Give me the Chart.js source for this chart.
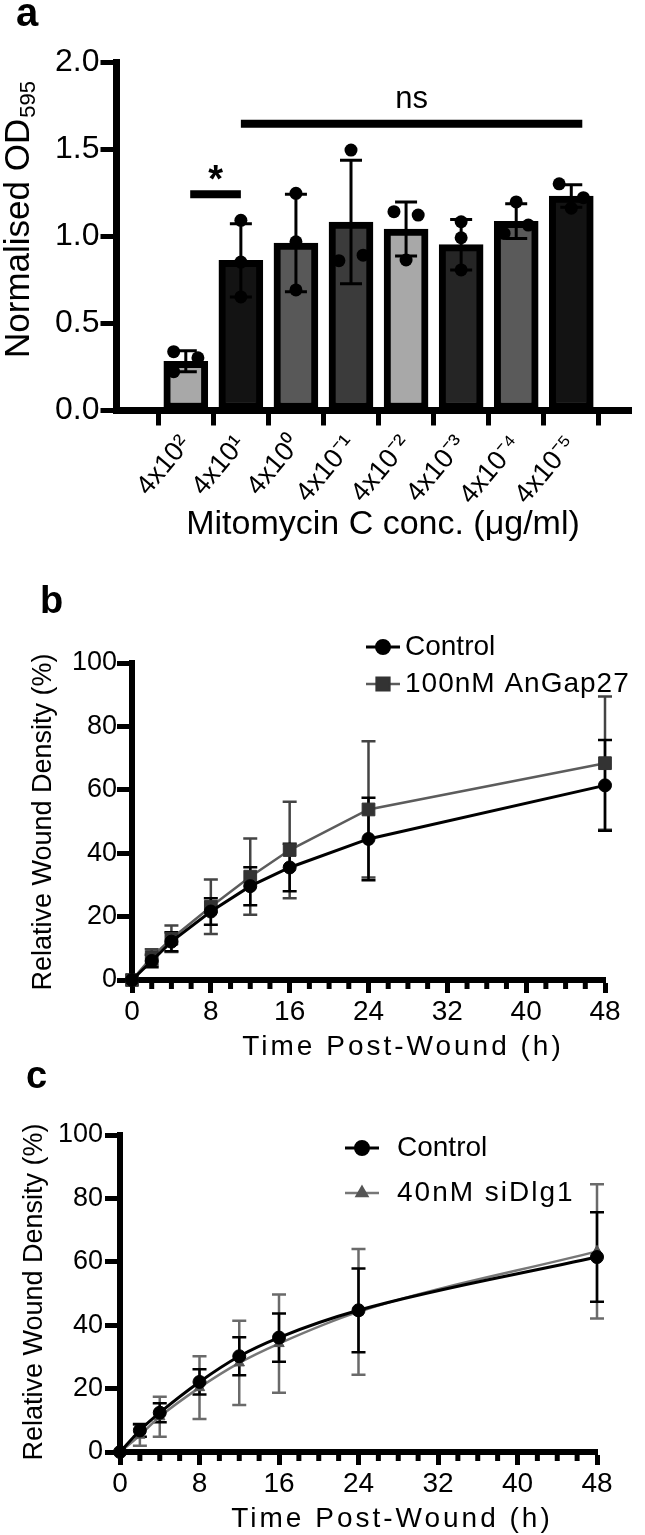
<!DOCTYPE html>
<html><head><meta charset="utf-8">
<script src="https://cdn.jsdelivr.net/npm/chart.js@4.4.1/dist/chart.umd.min.js"></script>
<style>
html,body{margin:0;padding:0;background:#fff;}
#wrap{position:relative;width:645px;height:1535px;overflow:hidden;background:#fff;}
canvas{position:absolute;left:0;}
</style></head><body>
<div id="wrap">
<canvas id="ca" width="645" height="560" style="top:0px;width:645px;height:560px"></canvas>
<canvas id="cb" width="645" height="520" style="top:560px;width:645px;height:520px"></canvas>
<canvas id="cc" width="645" height="475" style="top:1060px;width:645px;height:475px"></canvas>
</div>
<script>
// ---------- Panel a data ----------
const concLabels = ['4x10²','4x10¹','4x10⁰','4x10⁻¹','4x10⁻²','4x10⁻³','4x10⁻⁴','4x10⁻⁵'];
const odMean = [0.28, 0.86, 0.96, 1.08, 1.04, 0.95, 1.085, 1.23];
const odSD = [0.06, 0.21, 0.28, 0.355, 0.155, 0.145, 0.10, 0.065];
const odReplicates = [[0.335,0.30,0.22],[1.09,0.85,0.65],[1.245,0.967,0.69],[1.494,0.858,0.89],[1.14,1.12,0.862],[1.082,0.99,0.805],[1.196,1.015,1.063],[1.30,1.22,1.16]];
const replicateSide = [[-1,1,-1],[0,0,0],[0,0,0],[0,-1,1],[-1,1,0],[0,0,0],[0,-1,1],[-1,1,0]];
const barShades = ['#a8a8a8','#131313','#585858','#3b3b3b','#a8a8a8','#252525','#5a5a5a','#131313'];
const odTicks = [0, 0.5, 1.0, 1.5, 2.0];
const sigLabels = ['*', 'ns'];
const sigFrom = [0.08, 1];
const sigTo = [1, 7.2];
const sigLevel = [1.24, 1.645];

// ---------- Panel b / c data ----------
const timeH = [0, 2, 4, 8, 12, 16, 24, 48];
const bControl   = [0, 6.0, 12.1, 21.6, 29.6, 35.5, 44.5, 61.4];
const bControlSD = [0, 2.0, 3.0, 4.2, 6.0, 7.5, 13.0, 14.3];
const bAnGap     = [0, 7.2, 13.0, 23.1, 32.6, 41.0, 53.8, 68.4];
const bAnGapSD   = [0, 2.5, 4.2, 8.6, 12.0, 15.2, 21.5, 21.0];
const cControl   = [0, 6.8, 12.4, 22.1, 30.2, 36.1, 44.7, 61.5];
const cControlSD = [0, 2.0, 3.0, 4.0, 6.0, 7.6, 13.2, 14.1];
const cSiDlg     = [0, 5.3, 11.1, 20.3, 28.1, 34.2, 44.2, 63.3];
const cSiDlgSD   = [0, 3.3, 6.3, 9.9, 13.3, 15.5, 19.8, 21.2];
const timeTicks = [0, 8, 16, 24, 32, 40, 48];
const densTicks = [0, 20, 40, 60, 80, 100];

// ---------- helpers ----------
const FF = "'Liberation Sans', Arial, Helvetica, sans-serif";
Chart.defaults.font.family = FF;
Chart.defaults.color = '#000';

function txt(ctx, s, x, y, o) {
  ctx.save();
  ctx.font = o.font;
  ctx.fillStyle = o.color || '#000';
  ctx.textAlign = o.align || 'center';
  ctx.textBaseline = o.baseline || 'middle';
  if (o.spacing && 'letterSpacing' in ctx) ctx.letterSpacing = o.spacing + 'px';
  ctx.translate(x, y);
  if (o.rot) ctx.rotate(o.rot);
  ctx.fillText(s, 0, 0);
  ctx.restore();
}
function errBars(chart, xs, means, sds, color, lw, cap) {
  const ctx = chart.ctx, X = chart.scales.x, Y = chart.scales.y;
  ctx.save(); ctx.strokeStyle = color; ctx.lineWidth = lw;
  means.forEach((m, i) => {
    if (!sds[i]) return;
    const x = X.getPixelForValue(xs[i]);
    const y1 = Y.getPixelForValue(m + sds[i]), y2 = Y.getPixelForValue(m - sds[i]);
    ctx.beginPath();
    ctx.moveTo(x, y1); ctx.lineTo(x, y2);
    ctx.moveTo(x - cap, y1); ctx.lineTo(x + cap, y1);
    ctx.moveTo(x - cap, y2); ctx.lineTo(x + cap, y2);
    ctx.stroke();
  });
  ctx.restore();
}
function minorTicks(chart, step, major) {
  const X = chart.scales.x, ctx = chart.ctx, yb = chart.chartArea.bottom;
  ctx.save(); ctx.fillStyle = '#000';
  for (let v = X.min; v <= X.max; v += step) {
    if (v % major === 0) continue;
    const x = X.getPixelForValue(v);
    ctx.fillRect(x - 2.5, yb + 2, 5, 7);
  }
  ctx.restore();
}
function drawLegend(chart, mx, ys, tx, spacings) {
  const ctx = chart.ctx;
  chart.data.datasets.forEach((ds, i) => {
    const y = ys[i];
    ctx.save();
    ctx.strokeStyle = ds.borderColor; ctx.lineWidth = ds.borderWidth;
    ctx.beginPath(); ctx.moveTo(mx - 17, y); ctx.lineTo(mx + 17, y); ctx.stroke();
    ctx.fillStyle = ds.pointBackgroundColor; ctx.strokeStyle = ds.pointBorderColor;
    Chart.helpers.drawPoint(ctx, {pointStyle: ds.pointStyle, radius: ds.pointRadius, borderWidth: 1, rotation: 0}, mx, y);
    ctx.restore();
    txt(ctx, ds.label, tx, y, {font: '28px ' + FF, align: 'left', spacing: spacings[i]});
  });
}

// ---------- Panel a ----------
const SPREAD = 0.22;
const panelA = {
  id: 'panelA',
  afterDatasetDraw(chart, args) {
    if (args.meta.type === 'bar') errBars(chart, odMean.map((_, i) => i), odMean, odSD, '#000', 3, 11);
  },
  afterDraw(chart) {
    const ctx = chart.ctx, X = chart.scales.x, Y = chart.scales.y;
    ctx.save(); ctx.strokeStyle = '#000'; ctx.lineWidth = 8;
    sigLabels.forEach((lab, i) => {
      const y = Y.getPixelForValue(sigLevel[i]);
      const x1 = X.getPixelForValue(sigFrom[i]), x2 = X.getPixelForValue(sigTo[i]);
      ctx.beginPath(); ctx.moveTo(x1, y); ctx.lineTo(x2, y); ctx.stroke();
      if (lab === '*') txt(ctx, lab, (x1 + x2) / 2, y - 2, {font: 'bold 38px ' + FF, baseline: 'alphabetic'});
      else txt(ctx, lab, (x1 + x2) / 2, y - 16, {font: '31px ' + FF, baseline: 'alphabetic'});
    });
    ctx.restore();
    txt(ctx, 'a', 16, 26, {font: 'bold 40px ' + FF, align: 'left', baseline: 'alphabetic'});
    ctx.save();
    ctx.translate(29, 220); ctx.rotate(-Math.PI / 2);
    ctx.font = '35px ' + FF; const w1 = ctx.measureText('Normalised OD').width;
    ctx.font = '22px ' + FF; const w2 = ctx.measureText('595').width;
    const start = -(w1 + w2) / 2;
    ctx.fillStyle = '#000'; ctx.textAlign = 'left'; ctx.textBaseline = 'alphabetic';
    ctx.font = '35px ' + FF; ctx.fillText('Normalised OD', start, 0);
    ctx.font = '22px ' + FF; ctx.fillText('595', start + w1 + 1, 6);
    ctx.restore();
    txt(ctx, X.options.title.text, 383, 525, {font: '34px ' + FF});
  }
};
new Chart(document.getElementById('ca'), {
  type: 'bar',
  data: {
    datasets: [
      { type: 'scatter', label: 'Replicates', order: 0,
        data: odReplicates.flatMap((r, i) => r.map((v, j) => ({x: i + replicateSide[i][j] * SPREAD, y: v}))),
        pointRadius: 6.5, pointBackgroundColor: '#000', pointBorderColor: '#000', pointBorderWidth: 0, clip: false },
      { type: 'bar', label: 'Normalised OD595', order: 1,
        data: odMean.map((v, i) => ({x: i, y: v})),
        backgroundColor: barShades, borderColor: '#000', borderWidth: 7, borderSkipped: false, barThickness: 44 }
    ]
  },
  options: {
    responsive: false, animation: false, devicePixelRatio: 1,
    layout: {padding: {top: 62, right: 14, left: 0, bottom: 0}},
    plugins: {legend: {display: false}, tooltip: {enabled: false}},
    scales: {
      x: { type: 'linear', min: -0.683, max: 7.5,
        afterBuildTicks: s => { s.ticks = concLabels.map((_, i) => ({value: i})); },
        afterFit: s => { s.height = 150; s.paddingLeft = 0; s.paddingRight = 0; },
        ticks: { callback: v => concLabels[v], minRotation: 50, maxRotation: 50, autoSkip: false, font: {size: 27}, padding: 4 },
        grid: { drawOnChartArea: false, drawTicks: true, tickLength: 15.5, tickWidth: 5, tickColor: '#000' },
        border: { width: 7, color: '#000' },
        title: { display: false, text: 'Mitomycin C conc. (μg/ml)' } },
      y: { min: 0, max: 2,
        afterBuildTicks: s => { s.ticks = odTicks.map(v => ({value: v})); },
        afterFit: s => { s.width = 116; s.paddingTop = 0; s.paddingBottom = 0; },
        ticks: { callback: v => v.toFixed(1), font: {size: 32}, padding: 1 },
        grid: { drawOnChartArea: false, tickLength: 15.5, tickWidth: 5, tickColor: '#000' },
        border: { width: 7, color: '#000' } }
    }
  },
  plugins: [panelA]
});

// ---------- line panels ----------
function linePanel(id, h, area, sets, extra) {
  return new Chart(document.getElementById(id), {
    type: 'line',
    data: { datasets: sets },
    options: {
      responsive: false, animation: false, devicePixelRatio: 1,
      layout: {padding: {top: area.top, right: 645 - area.right, left: 0, bottom: 0}},
      plugins: {legend: {display: false}, tooltip: {enabled: false}},
      scales: {
        x: { type: 'linear', min: 0, max: 48,
          afterBuildTicks: s => { s.ticks = timeTicks.map(v => ({value: v})); },
          afterFit: s => { s.height = h - area.bottom; s.paddingLeft = 0; s.paddingRight = 0; },
          ticks: { font: {size: 28}, padding: 2, maxRotation: 0 },
          grid: { drawOnChartArea: false, tickLength: 13, tickWidth: 5, tickColor: '#000' },
          border: { width: 6, color: '#000' },
          title: { display: false, text: 'Time Post-Wound (h)' } },
        y: { min: 0, max: 100,
          afterBuildTicks: s => { s.ticks = densTicks.map(v => ({value: v})); },
          afterFit: s => { s.width = area.left; s.paddingTop = 0; s.paddingBottom = 0; },
          ticks: { font: {size: 27}, padding: extra.yPad },
          grid: { drawOnChartArea: false, tickLength: 15, tickWidth: 5, tickColor: '#000' },
          border: { width: 6, color: '#000' },
          title: { display: false, text: 'Relative Wound Density (%)' } }
      }
    },
    plugins: [{
      id: 'extras_' + id,
      beforeDatasetsDraw(chart) { extra.err(chart); },
      afterDraw(chart) {
        const ctx = chart.ctx;
        minorTicks(chart, 2, 8);
        txt(ctx, extra.letter, extra.lx, extra.ly, {font: 'bold 38px ' + FF, align: 'left', baseline: 'alphabetic'});
        txt(ctx, chart.scales.x.options.title.text, extra.xtx, extra.xty, {font: '28px ' + FF, spacing: 3});
        txt(ctx, chart.scales.y.options.title.text, extra.ytx, extra.yty, {font: '27px ' + FF, rot: -Math.PI / 2});
        drawLegend(chart, extra.legX, extra.legY, extra.legTX, extra.legSp);
      }
    }]
  });
}

linePanel('cb', 520, {left: 132, right: 605, top: 103, bottom: 420}, [
  { label: 'Control', data: timeH.map((t, i) => ({x: t, y: bControl[i]})), order: 0,
    borderColor: '#000', backgroundColor: '#000', pointBackgroundColor: '#000', pointBorderColor: '#000',
    borderWidth: 3, pointStyle: 'circle', pointRadius: 6.5, pointBorderWidth: 1, tension: 0, clip: false },
  { label: '100nM AnGap27', data: timeH.map((t, i) => ({x: t, y: bAnGap[i]})), order: 1,
    borderColor: '#5c5c5c', backgroundColor: '#333', pointBackgroundColor: '#333', pointBorderColor: '#333',
    borderWidth: 2.5, pointStyle: 'rect', pointRadius: 9, pointBorderWidth: 1, tension: 0, clip: false }
], {
  err: ch => { errBars(ch, timeH, bAnGap, bAnGapSD, '#444', 2.5, 7); errBars(ch, timeH, bControl, bControlSD, '#000', 2.5, 7); },
  letter: 'b', lx: 40, ly: 53, xtx: 403, xty: 487, ytx: 44, yty: 262, yPad: 0,
  legX: 383, legY: [87, 124], legTX: 405, legSp: [0, 1]
});

linePanel('cc', 475, {left: 120, right: 597, top: 75, bottom: 392}, [
  { label: 'Control', data: timeH.map((t, i) => ({x: t, y: cControl[i]})), order: 0,
    borderColor: '#000', backgroundColor: '#000', pointBackgroundColor: '#000', pointBorderColor: '#000',
    borderWidth: 3, pointStyle: 'circle', pointRadius: 6.5, pointBorderWidth: 1, cubicInterpolationMode: 'monotone', clip: false },
  { label: '40nM siDlg1', data: timeH.map((t, i) => ({x: t, y: cSiDlg[i]})), order: 1,
    borderColor: '#777', backgroundColor: '#555', pointBackgroundColor: '#555', pointBorderColor: '#555',
    borderWidth: 2.5, pointStyle: 'triangle', pointRadius: 6, pointBorderWidth: 1, cubicInterpolationMode: 'monotone', clip: false }
], {
  err: ch => { errBars(ch, timeH, cSiDlg, cSiDlgSD, '#6a6a6a', 2.5, 7); errBars(ch, timeH, cControl, cControlSD, '#000', 2.5, 7); },
  letter: 'c', lx: 26, ly: 28, xtx: 392, xty: 459, ytx: 35, yty: 232, yPad: 2,
  legX: 362, legY: [88, 133], legTX: 397, legSp: [0, 2]
});
</script>
</body></html>
